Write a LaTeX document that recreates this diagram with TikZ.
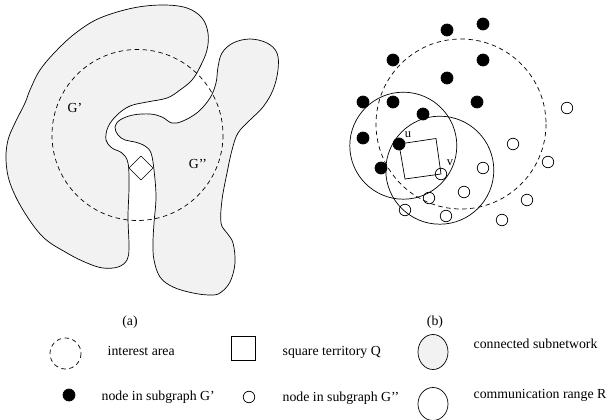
\documentclass[tikz,border=0pt]{standalone}
\usepackage{fontspec}
\setmainfont{Liberation Serif}
\usepackage{tikz}
\usetikzlibrary{positioning}

\begin{document}
\begin{tikzpicture}[x=1pt,y=-1pt,line width=0.7pt,
    font=\fontsize{13.8}{16}\selectfont,
    blob/.style={draw, fill=gray!10},
    area/.style={draw, dash pattern=on 4.5pt off 3.5pt},
    gnode/.style={circle, draw, fill=black, inner sep=0pt, minimum size=12pt},
    hnode/.style={circle, draw, inner sep=0pt, minimum size=11.5pt},
    lbl/.style={anchor=base west},
    tag/.style={anchor=base}]
    \useasboundingbox (0,0) rectangle (608,420);

    \draw[blob] plot[smooth cycle, tension=0.6] coordinates {
        (100,18) (133,8) (163,5) (187,8) (202,18) (208,33) (207,50) (200,67)
        (192,80) (180,90) (167,98) (147,102) (130,106) (117,115) (108,127)
        (106,140) (112,148) (122,153) (128,163) (129,187) (128,217) (129,247)
        (127,260) (118,267) (103,268) (87,263) (67,253) (43,237) (23,210)
        (10,183) (6,160) (8,140) (15,123) (25,103) (30,90) (40,70) (57,50) (77,32)};
    \draw[blob] plot[smooth cycle, tension=0.6] coordinates {
        (115,127) (120,120) (133,115) (150,114) (162,117) (172,123) (183,121)
        (198,112) (210,98) (216,83) (218,67) (222,53) (233,43) (250,39) (267,43)
        (277,53) (278,70) (273,90) (263,107) (250,120) (238,133) (232,150)
        (227,173) (222,200) (221,223) (227,233) (233,243) (235,263) (230,282)
        (220,293) (210,295) (193,293) (173,287) (160,277) (154,260) (153,243)
        (154,223) (156,197) (154,170) (151,153) (145,146) (135,142) (125,140) (118,135)};
    \draw[area] (137.5,135) circle[radius=85.5];
    \draw[fill=white] (129,168) -- (141,156) -- (153,168) -- (141,180) -- cycle;
    \node[tag] (gA) at (75,113) {G'};
    \node[tag] (gB) at (198,168) {G'{}'};

    \draw[area] (461,124) circle[radius=85];
    \draw (403.3,145.7) circle[radius=53.5];
    \draw (439.8,170.2) circle[radius=54];

    \node[gnode] (g1) at (447,30) {};
    \node[gnode] (g2) at (483,24) {};
    \node[gnode] (g3) at (393,60) {};
    \node[gnode] (g4) at (483,60) {};
    \node[gnode] (g5) at (447,78) {};
    \node[gnode] (g6) at (363,102) {};
    \node[gnode] (g7) at (393,102) {};
    \node[gnode] (g8) at (477,102) {};
    \node[gnode] (g9) at (423,114) {};
    \node[gnode] (g10) at (363,138) {};
    \node[gnode] (u) at (399,144) {};
    \node[gnode] (g12) at (381,168) {};

    \node[hnode] (h1) at (567,108) {};
    \node[hnode] (h2) at (513,144) {};
    \node[hnode] (h3) at (548,162) {};
    \node[hnode] (h4) at (483,168) {};
    \node[hnode] (v) at (441,174) {};
    \node[hnode] (h6) at (464,192) {};
    \node[hnode] (h7) at (429,198) {};
    \node[hnode] (h8) at (527,200) {};
    \node[hnode] (h9) at (405,210) {};
    \node[hnode] (h10) at (446,216) {};
    \node[hnode] (h11) at (502,220) {};

    \coordinate (q1) at (436,138.5);
    \coordinate (q2) at (405,179);
    \draw (u.center) -- (q1) -- (v.center) -- (q2) -- cycle;
    \node[tag, font=\fontsize{12.5}{14}\selectfont] at (408,137) {u};
    \node[tag, font=\fontsize{12.5}{14}\selectfont] at (450,165) {v};

    \node[tag] (capA) at (130,325) {(a)};
    \node[tag] (capB) at (435,325) {(b)};

    \draw[area] (65.5,353.5) circle[radius=15.5];
    \node[lbl] (l1) at (104,355) {interest area};
    \draw (231,336) rectangle (255,360);
    \node[lbl] (l2) at (279,355) {square territory Q};
    \draw[fill=gray!10] (433,352) ellipse[x radius=15, y radius=17.5];
    \node[lbl] (l3) at (470,348) {connected subnetwork};

    \node[gnode] (k1) at (69,395) {};
    \node[lbl] (l4) at (98,400) {node in subgraph G'};
    \node[hnode] (k2) at (249,397) {};
    \node[lbl] (l5) at (279,401) {node in subgraph G'{}'};
    \draw (433,404) ellipse[x radius=15, y radius=16.5];
    \node[lbl] (l6) at (470,398) {communication range R};
\end{tikzpicture}
\end{document}
